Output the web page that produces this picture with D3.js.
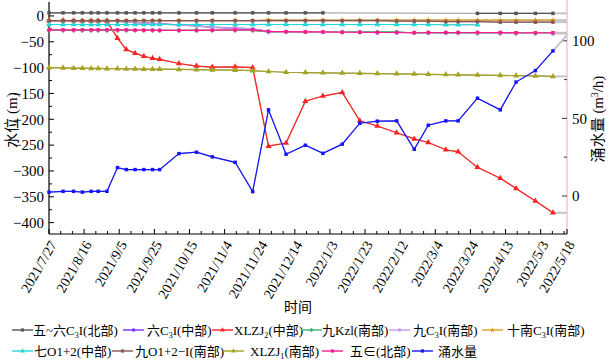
<!DOCTYPE html>
<html><head><meta charset="utf-8">
<script src="https://cdn.jsdelivr.net/npm/d3@7"></script>
<style>
body{margin:0;background:#fff}
text{font-family:"Liberation Serif","Times New Roman","Noto Sans CJK SC",serif;fill:#000}
</style>
</head><body><svg id="c" width="609" height="360"></svg>
<script>
// ---------- data ----------
const obsDates = ["2021-07-27","2021-08-04","2021-08-10","2021-08-15","2021-08-20","2021-08-24","2021-08-29","2021-09-04","2021-09-09","2021-09-14","2021-09-19","2021-09-24","2021-09-28","2021-10-09","2021-10-19","2021-10-28","2021-11-10","2021-11-20","2021-11-29","2021-12-09","2021-12-20","2021-12-30","2022-01-10","2022-01-20","2022-01-30","2022-02-10","2022-02-20","2022-02-28","2022-03-10","2022-03-17","2022-03-28","2022-04-10","2022-04-19","2022-04-30","2022-05-10"];
const tickDates = ["2021-07-27","2021-08-16","2021-09-05","2021-09-25","2021-10-15","2021-11-04","2021-11-24","2021-12-14","2022-01-03","2022-01-23","2022-02-12","2022-03-04","2022-03-24","2022-04-13","2022-05-03","2022-05-18"];
const tickLabels = ["2021/7/27","2021/8/16","2021/9/5","2021/9/25","2021/10/15","2021/11/4","2021/11/24","2021/12/14","2022/1/3","2022/1/23","2022/2/12","2022/3/4","2022/3/24","2022/4/13","2022/5/3","2022/5/18"];
const leftTicks = [0,-50,-100,-150,-200,-250,-300,-350,-400];
const rightTicks = [0,50,100];

const wuLiuBei = [6,6,6,6,6,6,6,6,6,6,6,6,6,6,6,6,6,6,6,6,6,6,null,null,null,null,null,null,null,null,5,5,5,5,5];
const liuZhong = [-9,-9,-9,-9,-9,-9,-9,-10,-11.5,-12.5,-13.5,-14.5,-15.5,-17,-19,-21.7,-23.6,-25,-30,-30.5,-31,-31,-31.5,-31.5,-32,-32,-32,-32.5,-32.5,-32.5,-32.5,-33,-33,-33,-33];
const xlzj2 = [-9,-9,-9.5,-10,-10,-10,-10,-43,-65,-72,-78,-82,-84,-92,-97,-99,-98.5,-100,-252,-246,-165,-155,-148,-203,-213,-226,-238,-245,-259,-263,-293,-314,-334,-358,-381];
const jiuKzl = [-28,-28,-28,-28,-28,-28,-28,-28,-28,-28,-28,-28,-28,-28,-28,-28,-28,-28,-31,-31,-31,-31,-31,-31,-31,-31,-33,-33,-33,-33,-34,-34,-34,-34,-34];
const jiuC3 = [-9.5,-9.5,-9.5,-9.5,-9.5,-9.5,-9.5,-10.5,-12,-13,-14,-15,-16,-17.5,-19.5,-22,-24,-25.5,-30.5,-31,-31,-31.5,-31.5,-32,-32,-32,-32.5,-32.5,-32.5,-32.5,-33,-33,-33,-33,-33];
const shiNan = [-9,-9,-9,-9,-9,-9,-9,-9,-9,-9,-9,-9,-9,-9,-9,-9,-9,-9,-8,-8,-8,-8,-8,-8,-8,-8,-8,-8,-8,-8,-8,-8,-8,-8,-8];
const qiO = [-16.5,-16.5,-16.5,-16.5,-16.5,-16.5,-16.5,-16.5,-16.5,-16.5,-16.5,-16.5,-16.5,-16.5,-16.5,-16.5,-16.5,-16.5,-16.5,-16.5,-16.5,-16.5,-16.5,-16.5,-16.5,-16.5,-16.5,-16.5,-17,-17,-17,null,null,null,null];
const jiuO = [-9,-9,-9,-9,-9,-9,-9,-9,-9,-9,-9,-9,-9,-9,-9,-9,-9,-9,-9,-9,-9,-9,-9,-9,-9,-10,-10,-10,-11,-11,-11,-12,-12,-12,-12];
const xlzj1 = [-100,-100.5,-101,-101,-101.5,-101.5,-102,-102,-102.5,-102.5,-103,-103,-103,-103.5,-104,-104.5,-105,-106,-107.5,-109,-109.5,-110,-110.5,-111,-111.5,-112,-112.5,-113,-113.5,-114,-114.5,-115,-115.5,-116,-117];
const wuE = [-27,-27,-27,-27,-27,-27,-27,-27,-27,-27.5,-27.5,-27.5,-28,-28,-28,-27.5,-27,-27,-30,-30.5,-31,-31,-31.5,-31.5,-32,-32,-32.5,-32,-32,-32,-32,-32,-32.5,-32.5,-32.5];
const yongShui = [2.5,3,3,2.5,3,3,3,18.3,17,17,17,17,17,27.3,28.2,25.2,21.7,2.8,55.5,26.9,32.7,27.5,33.4,46.9,48.2,48.4,30.1,45.6,48.4,48.4,63,55.5,73.4,80.8,93.5];

const seriesNames = ["五~六C_3I(北部)","六C_3I(中部)","XLZJ_2(中部)","九Kzl(南部)","九C_3I(南部)","十南C_3I(南部)","七O1+2(中部)","九O1+2−I(南部)","XLZJ_1(南部)","五∈(北部)","涌水量"];
const seriesValues = [wuLiuBei,liuZhong,xlzj2,jiuKzl,jiuC3,shiNan,qiO,jiuO,xlzj1,wuE,yongShui];
const seriesColors = ["#555555","#7b2fff","#ff2020","#3cb371","#c59af0","#e0a020","#22d8d8","#8b5454","#a3a320","#ff1a8c","#1414ff"];
const seriesSymbols = ["square","circle","triangle","cross","circle","star","triangle","square","triangle","square","square"];

// ---------- layout ----------
const svg = d3.select("#c");
const X0 = 49, X1 = 567, Y0 = 2, Y1 = 234;
const parse = d3.utcParse("%Y-%m-%d");
const x = d3.scaleUtc().domain([parse(tickDates[0]), parse(tickDates[tickDates.length-1])]).range([X0, X1]);
const yL = d3.scaleLinear().domain([-422, 27]).range([Y1, Y0]);
const yR = d3.scaleLinear().domain([-24.5, 125]).range([Y1, Y0]);

function rich(sel, str){
  const parts = str.split(/([_^].)/);
  let shifted = 0;
  parts.forEach(p=>{
    if(!p) return;
    if(p[0]==="_"||p[0]==="^"){
      const dy = p[0]==="_" ? 3 : -5;
      sel.append("tspan").attr("dy", dy).attr("font-size","0.62em").text(p[1]);
      shifted = dy;
    } else {
      const t = sel.append("tspan").text(p);
      if(shifted){ t.attr("dy", -shifted); shifted = 0; }
    }
  });
}

// ---------- axes ----------
const gAx = svg.append("g");
// left axis
gAx.append("line").attr("x1",X0).attr("x2",X0).attr("y1",Y0).attr("y2",Y1).attr("stroke","#000").attr("stroke-width",1.2);
const leftMinor = d3.range(-375, 25, 50);
leftTicks.forEach(v=>{
  gAx.append("line").attr("x1",X0).attr("x2",X0+5).attr("y1",yL(v)).attr("y2",yL(v)).attr("stroke","#000");
  gAx.append("text").attr("x",X0-5).attr("y",yL(v)).attr("dy","0.35em").attr("text-anchor","end")
    .attr("font-size",15).text(d3.format("")(v).replace("-","−"));
});
leftMinor.forEach(v=>{
  gAx.append("line").attr("x1",X0).attr("x2",X0+3).attr("y1",yL(v)).attr("y2",yL(v)).attr("stroke","#000");
});
// right axis
gAx.append("line").attr("x1",X1).attr("x2",X1).attr("y1",0).attr("y2",Y1).attr("stroke","#ffb3cc").attr("stroke-width",1.2);
rightTicks.forEach(v=>{
  gAx.append("line").attr("x1",X1-5).attr("x2",X1).attr("y1",yR(v)).attr("y2",yR(v)).attr("stroke","#333");
  gAx.append("text").attr("x",X1+5).attr("y",yR(v)).attr("dy","0.35em").attr("text-anchor","start")
    .attr("font-size",15).text(v);
});
[25,75].forEach(v=>{
  gAx.append("line").attr("x1",X1-3).attr("x2",X1).attr("y1",yR(v)).attr("y2",yR(v)).attr("stroke","#333");
});
// bottom axis
gAx.append("line").attr("x1",X0).attr("x2",X1).attr("y1",Y1).attr("y2",Y1).attr("stroke","#000").attr("stroke-width",1.2);
tickDates.forEach((d,i)=>{
  const px = x(parse(d));
  gAx.append("line").attr("x1",px).attr("x2",px).attr("y1",Y1).attr("y2",Y1-5).attr("stroke","#000");
  gAx.append("text").attr("text-anchor","end").attr("font-size",14)
    .attr("transform",`translate(${px+4},${Y1+8}) rotate(-60)`).attr("dy","0.35em").text(tickLabels[i]);
  if(i < tickDates.length-1){
    const a = parse(d).getTime(), b = parse(tickDates[i+1]).getTime();
    const step = (parse(tickDates[1]).getTime()-parse(tickDates[0]).getTime())/3;
    for(let t=a+step; t<b-1; t+=step){
      const mx = x(new Date(t));
      gAx.append("line").attr("x1",mx).attr("x2",mx).attr("y1",Y1).attr("y2",Y1-3).attr("stroke","#000");
    }
  }
});
// axis titles
gAx.append("text").attr("font-size",15).attr("text-anchor","middle")
  .attr("transform",`translate(17,120) rotate(-90)`).text("水位 (m)");
const rt = gAx.append("text").attr("font-size",15).attr("text-anchor","middle")
  .attr("transform",`translate(603,119) rotate(-90)`);
rich(rt, "涌水量 (m^3/h)");
gAx.append("text").attr("font-size",14).attr("text-anchor","middle").attr("x",298).attr("y",312).text("时间");

// ---------- series ----------
const gS = svg.append("g");
seriesValues.forEach((vals,si)=>{
  const yS = si===10 ? yR : yL;
  const pts = obsDates.map((d,i)=>({d:parse(d), v:vals[i]})).filter(p=>p.v!=null);
  const line = d3.line().x(p=>x(p.d)).y(p=>yS(p.v));
  // stub from last point to right axis (light gray)
  const last = pts[pts.length-1];
  let endY = yS(last.v);
  if(si===10){
    const prev = pts[pts.length-2];
    const slope = (yS(last.v)-yS(prev.v))/(x(last.d)-x(prev.d));
    endY = yS(last.v) + slope*(X1-x(last.d));
  }
  if(si!==6){
    gS.append("line").attr("x1",x(last.d)).attr("y1",yS(last.v)).attr("x2",X1).attr("y2",endY)
      .attr("stroke","#c4c4c4").attr("stroke-width",2);
  }
  // gap connectors in light gray, segments in series colour
  gS.append("path").attr("d",line(pts)).attr("fill","none").attr("stroke","#aaaaaa").attr("stroke-width",1.2);
  const all = obsDates.map((d,i)=>({d:parse(d), v:vals[i]}));
  gS.append("path").attr("d",line.defined(p=>p.v!=null)(all)).attr("fill","none")
    .attr("stroke",seriesColors[si]).attr("stroke-width",1.2);
  const sym = d3.symbol().type({square:d3.symbolSquare,circle:d3.symbolCircle,triangle:d3.symbolTriangle,cross:d3.symbolCross,star:d3.symbolStar}[seriesSymbols[si]])
    .size(seriesSymbols[si]==="triangle"?16:12);
  gS.selectAll(null).data(pts).enter().append("path")
    .attr("d",sym).attr("transform",p=>`translate(${x(p.d)},${yS(p.v)})`).attr("fill",seriesColors[si]);
});

// ---------- legend ----------
const legPos = [[12,330],[123,330],[212,330],[301,330],[389,330],[482,330],[12,351],[112,351],[223,351],[322,351],[412,351]];
const legTextX = [33,147,234,322,413,507,34,135,250,350,438];
const gL = svg.append("g");
seriesNames.forEach((n,i)=>{
  const [lx,ly] = legPos[i];
  gL.append("line").attr("x1",lx).attr("x2",lx+21).attr("y1",ly).attr("y2",ly).attr("stroke",seriesColors[i]).attr("stroke-width",1.4);
  const sym = d3.symbol().type({square:d3.symbolSquare,circle:d3.symbolCircle,triangle:d3.symbolTriangle,cross:d3.symbolCross,star:d3.symbolStar}[seriesSymbols[i]]).size(10);
  gL.append("path").attr("d",sym).attr("transform",`translate(${lx+10.5},${ly})`).attr("fill",seriesColors[i]);
  const t = gL.append("text").attr("x",legTextX[i]).attr("y",ly).attr("dy","0.35em").attr("font-size",13);
  rich(t, n);
});
</script>
</body></html>
